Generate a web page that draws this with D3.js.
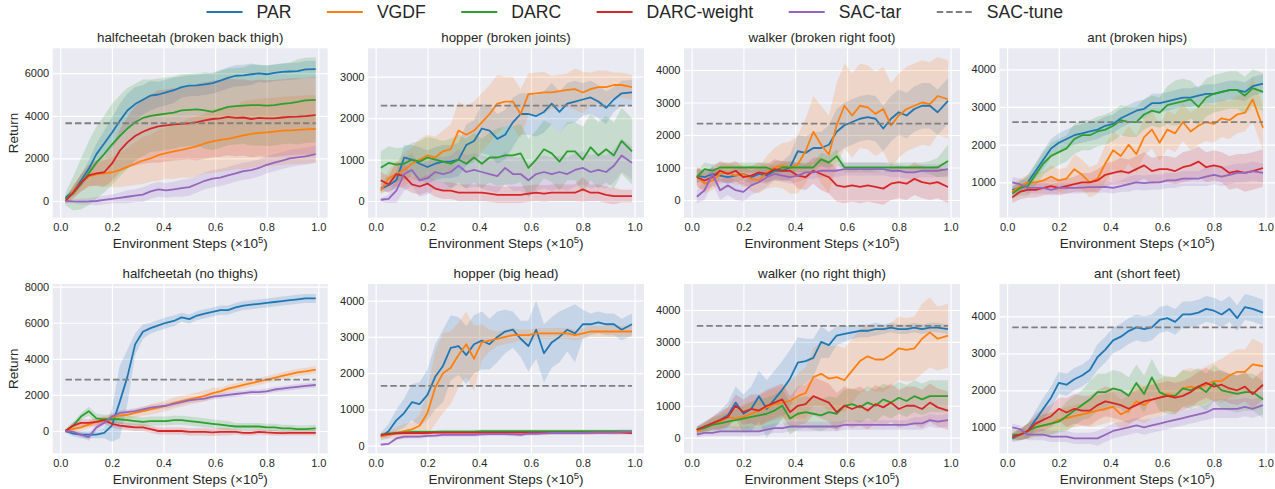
<!DOCTYPE html>
<html>
<head>
<meta charset="utf-8">
<script src="https://cdn.jsdelivr.net/npm/d3@7"></script>
<style>
  body { margin: 0; background: #fff; }
  svg { display: block; font-family: 'Liberation Sans', Arial, sans-serif; }
</style>
</head>
<body>
<svg id="chart" width="1275" height="489"></svg>
<script>
// ---- data ----
const methods = ['PAR', 'VGDF', 'DARC', 'DARC-weight', 'SAC-tar'];
const tuneLabel = 'SAC-tune';
const steps = [0.02, 0.05, 0.08, 0.11, 0.14, 0.17, 0.20, 0.23, 0.26, 0.29, 0.32,
  0.35, 0.38, 0.41, 0.44, 0.47, 0.50, 0.53, 0.56, 0.59, 0.62, 0.65,
  0.68, 0.71, 0.74, 0.77, 0.80, 0.83, 0.86, 0.89, 0.92, 0.95, 0.99];
const panelTitles = ['halfcheetah (broken back thigh)', 'hopper (broken joints)',
  'walker (broken right foot)', 'ant (broken hips)', 'halfcheetah (no thighs)',
  'hopper (big head)', 'walker (no right thigh)', 'ant (short feet)'];
const tuneReturns = [3650, 2300, 2350, 2600, 2850, 1650, 3500, 3700];
const xTicks = [0, 0.2, 0.4, 0.6, 0.8, 1.0];
const yTicks = [[0, 2000, 4000, 6000], [0, 1000, 2000, 3000], [0, 1000, 2000, 3000, 4000],
  [1000, 2000, 3000, 4000], [0, 2000, 4000, 6000, 8000], [0, 1000, 2000, 3000, 4000],
  [0, 1000, 2000, 3000, 4000], [1000, 2000, 3000, 4000]];

// rows: PAR, VGDF, DARC, DARC-weight, SAC-tar
const meanHcBackThigh = [
  [150,450,950,1500,2200,2700,3200,3750,4250,4550,4750, 4950,5000,5100,5200,5350,5420,5430,5480,5530,5650,5780, 5880,5900,5950,5990,5950,6020,6060,6080,6100,6180,6190],
  [0,450,850,1150,1250,1300,1350,1450,1600,1750,1900, 2000,2150,2250,2330,2400,2480,2580,2700,2800,2870,2920, 3000,3080,3150,3200,3220,3260,3300,3320,3340,3360,3380],
  [100,350,800,1300,1800,2200,2650,3050,3400,3700,3900, 4000,4050,4100,4150,4250,4280,4300,4250,4180,4300,4420, 4450,4480,4500,4500,4480,4500,4560,4600,4650,4720,4750],
  [0,400,850,1200,1300,1350,1750,2350,2750,3050,3250, 3400,3500,3550,3600,3620,3650,3700,3780,3850,3880,3950, 3900,3920,3850,3900,3880,3880,3920,3950,3960,3980,4030],
  [0,-20,-30,-20,0,50,100,150,200,250,300, 450,550,500,550,600,650,800,950,1050,1100,1200, 1300,1400,1450,1550,1700,1800,1900,2000,2050,2100,2200]
];
const sdHcBackThigh = [
  [100,200,300,400,500,600,700,800,800,800,700, 700,600,600,600,500,500,500,500,500,500,500, 500,500,500,400,400,400,400,400,400,400,400],
  [100,300,400,500,500,600,700,800,900,1000,1100, 1100,1200,1200,1300,1300,1400,1400,1400,1500,1500,1500, 1500,1600,1600,1600,1600,1600,1600,1600,1600,1600,1600],
  [300,800,1200,1500,1700,1800,1900,1900,1900,1800,1800, 1700,1700,1700,1700,1700,1700,1700,1800,1800,1800,1800, 1800,1800,1900,1900,1900,1900,1900,1900,2000,2000,2000],
  [100,300,400,500,600,700,800,1000,1200,1400,1500, 1600,1700,1700,1700,1700,1700,1800,1800,1800,1800,1800, 1800,1800,1800,1800,1800,1800,1800,1800,1800,1800,1800],
  [100,100,150,150,200,200,200,250,300,300,350, 350,350,350,350,400,400,400,400,400,400,400, 400,400,400,400,400,400,400,400,400,400,400]
];

const meanHopperJoints = [
  [300,380,500,1050,1000,900,820,900,950,950,1000, 1350,1450,1750,1700,1500,1600,1900,2100,2100,2050,2150, 2350,2150,2350,2400,2450,2500,2400,2250,2450,2600,2620],
  [250,550,650,750,900,1000,1100,1050,1200,1250,1700, 1600,1700,1900,2100,2350,2400,2400,2100,2580,2600,2620, 2620,2650,2680,2700,2620,2700,2750,2750,2800,2800,2750],
  [800,920,880,900,1000,950,1050,1000,950,900,1000, 900,1050,900,1050,1050,1100,1100,1150,800,1000,1250, 1150,950,1200,1200,1000,1300,1100,1250,1100,1450,1200],
  [500,400,650,600,400,350,420,300,250,250,200, 200,200,200,180,150,150,150,150,180,200,180, 200,200,200,200,280,200,200,150,120,120,120],
  [30,50,250,650,750,500,550,700,650,700,850, 700,750,700,650,600,800,650,650,500,650,700, 650,700,650,750,800,700,750,700,850,1100,920]
];
const sdHopperJoints = [
  [100,150,200,300,350,400,400,400,400,400,400, 500,500,600,600,600,600,600,500,500,500,500, 500,500,500,500,400,400,400,400,300,300,300],
  [100,200,300,400,400,500,500,500,500,600,700, 700,700,700,700,700,600,600,600,500,500,500, 400,400,400,500,500,400,400,400,300,300,300],
  [400,400,400,400,400,500,500,500,500,600,600, 600,600,600,600,700,700,700,700,700,700,700, 700,700,700,700,800,800,800,800,800,800,800],
  [200,200,300,300,200,200,200,200,200,200,200, 200,200,200,200,200,200,200,200,200,200,200, 200,200,200,200,300,200,200,200,200,150,150],
  [50,100,300,400,400,400,400,400,400,400,400, 400,400,400,400,400,400,400,400,400,400,400, 400,400,400,400,400,400,400,400,400,400,400]
];

const meanWalkerFoot = [
  [750,700,800,750,700,750,800,700,800,750,900, 900,1000,1500,1450,1600,1600,1700,2100,2300,2400,2500, 2550,2500,2200,2500,2700,2600,2800,2900,2900,2700,3050],
  [750,500,600,800,850,750,800,650,600,850,1000, 1050,1000,1100,1500,2100,1700,1400,2300,2900,2600,2900, 2850,2650,2800,2300,2600,2800,2900,3000,2950,3200,3100],
  [700,950,900,1000,1000,1000,1000,1000,1000,1000,900, 1000,1000,1000,1000,1000,1250,1150,1350,1000,1000,1000, 1000,1000,1000,1000,1000,1000,1000,1000,1000,1000,1200],
  [700,600,700,900,800,900,700,750,850,800,950, 900,900,750,700,900,800,700,450,400,450,400, 450,400,350,500,550,500,650,550,500,550,400],
  [100,300,800,300,450,300,250,450,550,700,800, 750,700,750,850,850,900,900,900,950,950,950, 950,950,950,900,900,850,850,900,900,900,950]
];
const sdWalkerFoot = [
  [200,200,200,200,200,200,200,200,200,200,300, 300,400,500,500,500,500,600,700,700,700,700, 700,700,700,700,700,700,700,700,700,700,700],
  [300,300,300,300,300,300,300,400,400,500,600, 700,800,900,1000,1100,1200,1200,1300,1300,1300,1300, 1300,1300,1300,1300,1300,1300,1300,1300,1300,1200,1200],
  [200,200,200,150,150,150,150,150,150,150,150, 150,150,150,150,150,200,200,200,150,150,150, 150,150,150,150,150,150,150,150,200,300,500],
  [300,300,300,300,300,300,300,300,300,300,300, 300,300,400,400,400,500,500,500,500,500,500, 500,500,500,500,500,500,500,500,500,500,500],
  [200,300,300,300,300,300,300,300,300,300,200, 200,200,200,200,200,200,200,200,200,200,200, 200,200,200,200,200,200,200,200,200,200,200]
];

const meanAntHips = [
  [800,850,1000,1300,1600,1900,2050,2150,2250,2300,2350, 2400,2500,2550,2700,2800,2900,2950,3100,3100,3150,3200, 3250,3250,3300,3350,3350,3400,3450,3450,3400,3550,3620],
  [750,900,1000,1000,1050,1150,1050,1100,1350,1200,1000, 1100,1500,1850,1700,2000,1750,2200,2400,2050,2400,2300, 2600,2350,2500,2600,2550,2700,2650,2800,2850,3200,2450],
  [700,850,900,1200,1500,1700,1800,1900,2150,2250,2250, 2350,2400,2500,2650,2600,2600,2800,2900,2850,3050,3100, 3150,3200,3000,3250,3350,3400,3450,3450,3300,3500,3400],
  [600,750,800,800,850,900,850,900,950,1000,1000, 1050,1200,1250,1300,1250,1350,1450,1300,1350,1350,1300, 1400,1450,1550,1400,1450,1400,1250,1300,1250,1300,1380],
  [1000,950,850,850,850,800,850,850,850,860,870, 870,880,850,900,950,1000,980,1000,1000,1050,1050, 1100,1100,1100,1150,1200,1150,1200,1250,1250,1300,1250]
];
const sdAntHips = [
  [100,150,200,200,250,250,250,250,250,250,250, 250,250,250,250,250,250,250,250,250,250,250, 250,250,250,250,250,250,250,250,250,250,250],
  [150,200,200,250,250,300,300,300,400,400,400, 400,500,500,500,500,500,500,500,500,500,500, 500,500,500,500,500,500,500,500,500,600,600],
  [150,200,250,300,300,350,350,350,400,400,400, 400,400,400,400,400,400,400,400,400,500,600, 600,500,500,500,500,500,500,500,500,500,500],
  [150,200,200,200,200,200,200,200,200,250,250, 300,300,300,350,350,350,350,350,350,350,350, 400,400,400,400,400,400,450,450,500,500,500],
  [150,150,150,150,150,150,150,150,150,150,150, 150,150,150,150,200,200,200,200,200,200,200, 200,200,200,250,250,250,250,250,250,250,250]
];

const meanHcNoThighs = [
  [0,-150,-200,-200,-200,-100,300,1600,3000,4800,5500, 5700,5850,6000,6100,6300,6200,6400,6500,6600,6700,6700, 6850,6950,7000,7050,7100,7150,7200,7250,7300,7350,7350],
  [0,100,200,350,500,600,750,850,900,1000,1100, 1200,1300,1400,1550,1650,1750,1850,1950,2100,2200,2350, 2450,2550,2650,2750,2850,2950,3050,3150,3250,3300,3400],
  [0,300,800,1100,700,650,650,650,600,550,500, 550,550,550,600,600,550,500,450,400,350,300, 250,250,250,250,200,200,150,150,100,100,150],
  [0,300,450,450,500,600,400,300,250,200,200, 100,0,0,0,0,-50,-50,-50,-80,-50,-50, -50,-100,-100,-50,-80,-100,-120,-100,-100,-100,-100],
  [0,-50,-200,-350,200,450,800,1000,1050,1100,1200, 1300,1350,1400,1500,1600,1700,1750,1800,1900,1950,2000, 2050,2100,2150,2150,2200,2300,2350,2400,2450,2500,2550]
];
const sdHcNoThighs = [
  [100,150,200,200,200,300,900,2000,1500,600,400, 300,300,300,300,250,250,250,250,250,250,250, 250,250,250,250,250,250,250,250,250,250,250],
  [100,150,200,200,200,200,200,200,250,250,250, 300,300,300,300,300,300,300,300,300,200,200, 200,200,200,200,200,200,200,200,200,200,200],
  [100,200,200,250,250,250,250,250,250,250,250, 250,250,250,250,250,250,250,250,250,250,250, 200,200,200,200,200,200,200,200,200,200,200],
  [100,200,200,200,200,200,200,200,200,200,200, 200,200,200,200,200,200,200,200,200,200,200, 150,150,150,150,150,150,150,150,150,150,150],
  [100,100,150,200,200,150,150,150,150,150,150, 150,150,150,150,150,150,150,150,150,150,150, 150,150,150,150,150,150,150,150,150,150,150]
];

const meanHopperHead = [
  [250,400,700,900,1200,1150,1400,1900,2200,2700,2750, 2500,2800,2900,2800,3000,3150,3200,2950,2750,3200,2550, 2850,3000,3200,3100,3350,3350,3400,3350,3350,3200,3350],
  [250,300,350,400,450,550,900,1600,2000,2150,2500, 2800,2400,2850,2900,2950,3000,3050,3050,3050,3100,3100, 3100,3100,3100,3050,3100,3150,3150,3150,3150,3150,3150],
  [300,330,350,370,380,380,380,380,390,390,390, 390,390,400,400,400,400,400,400,400,400,400, 400,400,400,400,400,400,400,400,400,400,400],
  [300,320,340,350,350,350,350,360,360,360,360, 360,360,360,360,360,360,360,360,360,360,360, 360,360,360,360,360,360,360,360,360,360,350],
  [30,50,200,250,250,250,270,280,300,300,300, 300,300,310,320,320,320,310,300,330,330,340, 350,350,350,350,350,360,370,370,370,380,380]
];
const sdHopperHead = [
  [100,200,300,400,500,600,700,900,1000,900,800, 800,800,800,700,700,600,500,500,700,800,800, 700,700,600,800,400,300,300,300,300,300,300],
  [50,100,150,200,200,300,600,1000,1100,1000,900, 900,900,500,300,200,200,200,150,150,150,150, 150,150,150,150,150,150,150,150,150,150,150],
  [50,50,50,50,50,50,50,50,50,50,50, 50,50,50,50,50,50,50,50,50,50,50, 50,50,50,50,50,50,50,50,50,50,50],
  [50,50,50,50,50,50,50,50,50,50,50, 50,50,50,50,50,50,50,50,50,50,50, 50,50,50,50,50,50,50,50,50,50,50],
  [30,30,50,50,50,50,50,50,50,50,50, 50,50,50,50,50,50,50,50,50,50,50, 50,50,50,50,50,50,50,50,60,60,60]
];

const meanWalkerThigh = [
  [250,350,450,550,700,1100,750,900,1300,900,1200, 1500,1850,2350,2400,2500,3000,2900,3200,3250,3300,3350, 3350,3400,3400,3450,3400,3400,3450,3400,3450,3450,3400],
  [200,300,450,500,650,600,650,750,850,950,1050, 1100,1150,1300,1400,1900,2000,1850,1900,1800,2100,2400, 2550,2450,2450,2600,2800,2750,2800,3100,3300,3100,3200],
  [250,300,400,450,500,550,600,650,700,750,850, 1000,600,750,800,750,700,800,750,1000,1050,950, 1100,1000,1200,1100,1250,1150,1300,1200,1300,1300,1300],
  [250,350,450,550,650,1000,800,900,850,1000,1100, 1200,800,1000,1050,1300,1200,1100,800,1000,900,1000, 850,1050,950,1100,900,1000,1000,900,1100,950,850],
  [100,150,150,200,200,200,200,200,200,250,300, 300,350,350,350,350,350,350,350,400,400,400, 400,400,400,400,400,400,450,450,550,500,550]
];
const sdWalkerThigh = [
  [100,150,200,300,400,500,600,700,800,900,900, 900,900,800,700,600,500,400,300,250,200,200, 200,200,150,150,150,150,150,150,150,150,150],
  [100,150,200,250,300,350,400,400,450,500,500, 500,600,700,800,900,1000,1000,1000,1000,1000,1000, 1000,1000,1000,1000,1000,1000,1000,1100,1100,1000,1000],
  [100,150,200,250,300,350,400,450,500,500,500, 500,500,500,500,500,500,500,500,500,500,500, 500,500,500,500,500,500,500,500,500,500,500],
  [100,150,200,250,300,350,400,450,500,500,500, 500,500,600,600,600,600,600,600,600,600,600, 600,600,600,600,600,600,600,600,600,600,600],
  [100,100,100,150,150,150,150,150,150,150,150, 150,150,150,150,150,150,150,150,150,150,150, 150,150,150,150,150,150,200,200,200,200,200]
];

const meanAntFeet = [
  [700,800,900,1200,1500,1800,2200,2150,2300,2400,2550, 2900,3100,3350,3450,3600,3700,3650,3700,3900,3950,3850, 4050,4050,4100,4200,4150,4050,4200,3950,4250,4200,4100],
  [750,800,900,1000,1050,1100,1200,1250,1300,1350,1400, 1450,1500,1550,1350,1450,1700,1600,1750,1800,1900,1850, 2050,2100,2050,2150,2250,2250,2400,2500,2500,2700,2650],
  [800,800,900,1000,1050,1100,1150,1300,1450,1600,1750, 1950,1950,2050,2000,1850,2200,1900,2350,1950,1850,1850, 2050,2000,2100,1950,2200,2000,1950,1900,1950,1950,1750],
  [750,800,900,1100,1200,1300,1500,1400,1500,1450,1450, 1600,1700,1650,1600,1500,1600,1700,1750,1800,1850,1800, 1850,1950,2100,2200,2100,2150,2050,2000,2100,1900,2150],
  [1000,950,800,800,800,750,750,750,700,700,700, 700,800,900,950,1000,1050,1000,1050,1100,1150,1200, 1250,1300,1350,1400,1500,1500,1500,1500,1550,1500,1600]
];
const sdAntFeet = [
  [100,150,200,250,300,300,300,300,300,300,300, 350,350,350,350,350,350,350,350,350,350,350, 350,350,350,350,350,350,350,350,350,350,350],
  [100,150,200,250,300,300,300,300,300,300,400, 400,400,400,400,400,500,500,500,500,500,500, 500,500,500,500,500,600,600,600,600,700,600],
  [100,150,200,250,300,300,300,400,400,400,500, 500,500,500,500,500,500,500,500,500,500,500, 500,500,500,500,500,500,500,500,500,500,500],
  [100,150,200,250,300,300,300,400,400,400,400, 400,400,400,400,400,400,400,400,400,400,400, 400,400,400,400,400,400,400,400,400,400,400],
  [100,100,150,150,150,150,150,150,150,150,150, 200,200,200,200,200,200,200,200,200,200,200, 200,200,200,200,250,250,250,250,250,250,250]
];

// ---- styles / layout ----
const methodColors = ['#1f77b4', '#ff7f0e', '#2ca02c', '#d62728', '#9467bd'];
const textColor = '#262626';
const colLeft = [52.7, 368, 684, 999.5];
const colRight = [327.7, 644, 960, 1275];
const rowTop = [48.3, 284];
const rowBottom = [217.7, 453.3];
const xDomain = [-0.0295, 1.0364];
const yDomains = [[-784, 7169], [-403, 3686], [-545, 4668], [61, 4557],
  [-1236, 8148], [-210, 4461], [-489, 4815], [297, 4873]];

const panelMeans = [meanHcBackThigh, meanHopperJoints, meanWalkerFoot, meanAntHips,
  meanHcNoThighs, meanHopperHead, meanWalkerThigh, meanAntFeet];
const panelSds = [sdHcBackThigh, sdHopperJoints, sdWalkerFoot, sdAntHips,
  sdHcNoThighs, sdHopperHead, sdWalkerThigh, sdAntFeet];

const svg = d3.select('#chart');

panelTitles.forEach((title, p) => {
  const col = p % 4, row = Math.floor(p / 4);
  const left = colLeft[col], top = rowTop[row];
  const width = colRight[col] - left, height = rowBottom[row] - top;

  const x = d3.scaleLinear().domain(xDomain).range([0, width]);
  const y = d3.scaleLinear().domain(yDomains[p]).range([height, 0]);

  const g = svg.append('g').attr('transform', `translate(${left},${top})`);

  g.append('rect')
    .attr('width', width).attr('height', height)
    .attr('fill', '#eaeaf2');

  // grid + tick labels
  const xAxisG = g.append('g')
    .attr('transform', `translate(0,${height})`)
    .call(d3.axisBottom(x).tickValues(xTicks).tickFormat(d3.format('.1f'))
      .tickSize(-height).tickPadding(6));
  const yAxisG = g.append('g')
    .call(d3.axisLeft(y).tickValues(yTicks[p]).tickFormat(d3.format('d'))
      .tickSize(-width).tickPadding(3.5));
  [xAxisG, yAxisG].forEach(a => {
    a.select('.domain').remove();
    a.selectAll('.tick line').attr('stroke', '#fff').attr('stroke-width', 1.2);
    a.selectAll('.tick text')
      .attr('fill', textColor)
      .style('font-size', '11px')
      .style('font-family', "'Liberation Sans', Arial, sans-serif");
  });

  // clip
  const clipId = `clip-${p}`;
  g.append('clipPath').attr('id', clipId)
    .append('rect').attr('width', width).attr('height', height);
  const plot = g.append('g').attr('clip-path', `url(#${clipId})`);

  const means = panelMeans[p], sds = panelSds[p];

  const area = d3.area()
    .x(d => x(d.step))
    .y0(d => y(d.mean - d.sd))
    .y1(d => y(d.mean + d.sd));
  const line = d3.line()
    .x(d => x(d.step))
    .y(d => y(d.mean));

  const series = methods.map((m, i) => steps.map((s, j) => ({ step: s, mean: means[i][j], sd: sds[i][j] })));

  plot.selectAll('path.band').data(series).enter()
    .append('path')
      .attr('class', 'band')
      .attr('d', area)
      .attr('fill', (d, i) => methodColors[i])
      .attr('fill-opacity', 0.18)
      .attr('stroke', 'none');

  plot.selectAll('path.mean').data(series).enter()
    .append('path')
      .attr('class', 'mean')
      .attr('d', line)
      .attr('fill', 'none')
      .attr('stroke', (d, i) => methodColors[i])
      .attr('stroke-width', 1.8)
      .attr('stroke-linejoin', 'round');

  // SAC-tune reference level
  plot.append('line')
    .attr('x1', x(steps[0])).attr('x2', x(steps[steps.length - 1]))
    .attr('y1', y(tuneReturns[p])).attr('y2', y(tuneReturns[p]))
    .attr('stroke', '#808080')
    .attr('stroke-width', 1.8)
    .attr('stroke-dasharray', '6.5,3');

  // title
  svg.append('text')
    .attr('x', left + width / 2).attr('y', top - 11)
    .attr('dy', '0.35em')
    .attr('text-anchor', 'middle')
    .attr('fill', textColor)
    .style('font-size', '13.3px')
    .text(title);

  // x label
  const xl = svg.append('text')
    .attr('x', left + width / 2).attr('y', top + height + 26)
    .attr('dy', '0.35em')
    .attr('text-anchor', 'middle')
    .attr('fill', textColor)
    .style('font-size', '13.5px');
  xl.append('tspan').text('Environment Steps (\u00d710');
  xl.append('tspan').attr('dy', -5).style('font-size', '9.5px').text('5');
  xl.append('tspan').attr('dy', 5).text(')');

  if (col === 0) {
    svg.append('text')
      .attr('transform', `translate(13.5,${top + height / 2}) rotate(-90)`)
      .attr('dy', '0.35em')
      .attr('text-anchor', 'middle')
      .attr('fill', textColor)
      .style('font-size', '13.5px')
      .text('Return');
  }
});

// ---- legend ----
const legend = svg.append('g').attr('transform', 'translate(206.5,12)');
const legendItems = methods.map((m, i) => ({ label: m, color: methodColors[i], dash: null }))
  .concat([{ label: tuneLabel, color: '#808080', dash: '6.5,3' }]);
let lx = 0;
legendItems.forEach(item => {
  legend.append('line')
    .attr('x1', lx).attr('x2', lx + 36)
    .attr('y1', 0).attr('y2', 0)
    .attr('stroke', item.color)
    .attr('stroke-width', 2)
    .attr('stroke-dasharray', item.dash);
  const t = legend.append('text')
    .attr('x', lx + 50).attr('y', 0)
    .attr('dy', '0.35em')
    .attr('fill', textColor)
    .style('font-size', '17.6px')
    .text(item.label);
  lx += 50 + t.node().getComputedTextLength() + 35.5;
});
</script>
</body>
</html>
